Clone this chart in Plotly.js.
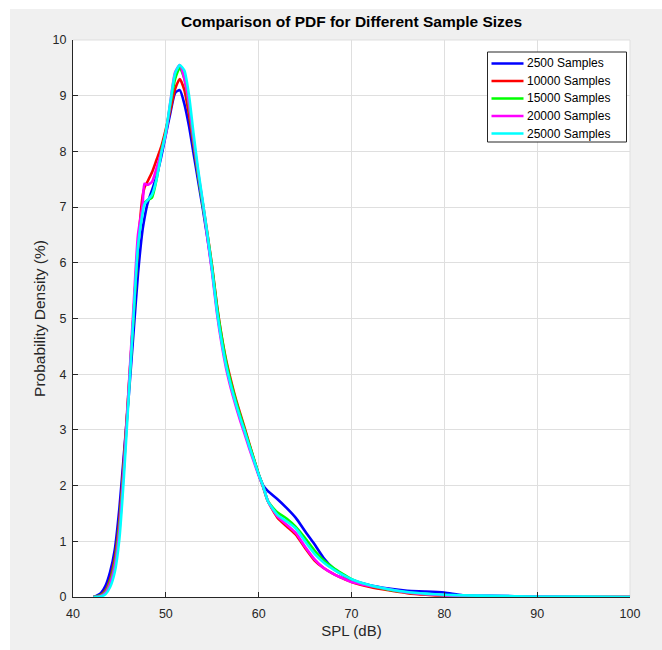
<!DOCTYPE html>
<html>
<head>
<meta charset="utf-8">
<script src="https://cdn.plot.ly/plotly-3.0.1.min.js"></script>
<style>html,body{margin:0;padding:0;background:#fff;}#chart{width:662px;height:650px;}</style>
</head>
<body>
<div id="chart"></div>
<script>
var splX = [42.2, 42.5, 43, 43.5, 44, 44.5, 45, 45.5, 46, 46.5,
  47, 47.5, 47.7, 48, 48.5, 49, 49.5, 50, 50.5, 51,
  51.5, 52, 52.5, 53, 53.5, 54, 54.5, 55, 55.5, 56,
  56.5, 57, 57.5, 58, 58.5, 59, 59.5, 60, 60.5, 61,
  62, 63, 64, 65, 66, 67, 68, 69, 70, 72,
  74, 76, 78, 80, 82, 85, 90, 95, 100];

var pdf2500 = [0, 0.02, 0.07, 0.2, 0.45, 0.85, 1.6, 2.6, 3.6, 4.7,
  5.8, 6.6, 6.8, 7.05, 7.3, 7.55, 7.9, 8.3, 8.7, 9.05,
  9.1, 8.85, 8.45, 7.95, 7.45, 6.95, 6.42, 5.85, 5.18, 4.62,
  4.17, 3.82, 3.5, 3.22, 2.97, 2.7, 2.45, 2.2, 2.0, 1.9,
  1.76, 1.6, 1.42, 1.18, 0.95, 0.7, 0.52, 0.4, 0.31, 0.21,
  0.15, 0.11, 0.1, 0.08, 0.03, 0.02, 0.01, 0, 0];

var pdf10000 = [0, 0.01, 0.04, 0.12, 0.32, 0.7, 1.4, 2.5, 3.75, 5.0,
  6.3, 7.2, 7.35, 7.45, 7.62, 7.85, 8.08, 8.4, 8.75, 9.12,
  9.3, 9.1, 8.65, 8.1, 7.55, 7.05, 6.5, 5.92, 5.25, 4.7,
  4.25, 3.9, 3.58, 3.3, 3.03, 2.75, 2.47, 2.2, 1.97, 1.72,
  1.43, 1.27, 1.12, 0.88, 0.66, 0.52, 0.42, 0.34, 0.27, 0.18,
  0.12, 0.07, 0.04, 0.02, 0.01, 0.01, 0, 0, 0];

var pdf15000 = [0, 0.01, 0.03, 0.1, 0.28, 0.62, 1.3, 2.4, 3.7, 5.0,
  6.3, 6.95, 7.08, 7.12, 7.17, 7.5, 8.0, 8.35, 8.85, 9.3,
  9.5, 9.3, 8.8, 8.15, 7.55, 7.0, 6.48, 5.9, 5.22, 4.68,
  4.22, 3.86, 3.55, 3.27, 3.0, 2.73, 2.47, 2.2, 1.97, 1.72,
  1.52, 1.41, 1.26, 1.06, 0.84, 0.66, 0.53, 0.42, 0.32, 0.2,
  0.13, 0.08, 0.05, 0.03, 0.02, 0.01, 0, 0, 0];

var pdf20000 = [0, 0, 0.02, 0.08, 0.24, 0.55, 1.2, 2.35, 3.75, 5.15,
  6.5, 7.05, 7.42, 7.4, 7.45, 7.7, 7.98, 8.32, 8.9, 9.42,
  9.55, 9.3, 8.85, 8.2, 7.6, 7.05, 6.42, 5.8, 5.1, 4.55,
  4.1, 3.75, 3.45, 3.17, 2.92, 2.66, 2.42, 2.18, 1.97, 1.72,
  1.45, 1.3, 1.15, 0.9, 0.68, 0.52, 0.42, 0.34, 0.27, 0.2,
  0.14, 0.08, 0.05, 0.03, 0.02, 0.01, 0.01, 0, 0];

var pdf25000 = [0, 0, 0.01, 0.05, 0.18, 0.45, 1.05, 2.2, 3.6, 5.0,
  6.3, 6.9, 7.05, 7.12, 7.22, 7.5, 7.95, 8.35, 8.9, 9.4,
  9.55, 9.45, 9.0, 8.3, 7.65, 7.08, 6.48, 5.85, 5.15, 4.6,
  4.15, 3.8, 3.5, 3.22, 2.97, 2.7, 2.45, 2.2, 1.98, 1.72,
  1.48, 1.36, 1.23, 1.0, 0.78, 0.62, 0.5, 0.4, 0.32, 0.21,
  0.14, 0.09, 0.06, 0.04, 0.03, 0.02, 0.01, 0.01, 0];

var seriesNames = ['2500 Samples', '10000 Samples', '15000 Samples', '20000 Samples', '25000 Samples'];
var seriesColors = ['#0000ff', '#ff0000', '#00ff00', '#ff00ff', '#00ffff'];
var seriesData = [pdf2500, pdf10000, pdf15000, pdf20000, pdf25000];

var xTicks = [40, 50, 60, 70, 80, 90, 100];
var yTicks = [0, 1, 2, 3, 4, 5, 6, 7, 8, 9, 10];

var traces = seriesData.map(function (ys, i) {
  return {
    x: splX, y: ys, type: 'scatter', mode: 'lines',
    name: seriesNames[i], showlegend: false,
    line: {color: seriesColors[i], width: 2.6, shape: 'spline', smoothing: 0.6}
  };
});

// plot area in pixels: left 73, right 630, top 40, bottom 597
var PL = 73, PR = 630, PT = 40, PB = 597;
function px(x) { return (x - PL) / (PR - PL); }
function py(y) { return (PB - y) / (PB - PT); }

var fontFam = 'Liberation Sans, Arial, Helvetica, sans-serif';

var shapes = [
  {type: 'rect', xref: 'paper', yref: 'paper', x0: -0.2, x1: 1.2, y0: py(9), y1: 1.2, fillcolor: '#ffffff', line: {width: 0}, layer: 'below'},
  {type: 'rect', xref: 'paper', yref: 'paper', x0: -0.2, x1: px(10), y0: -0.2, y1: 1.2, fillcolor: '#ffffff', line: {width: 0}, layer: 'below'},
  {type: 'line', xref: 'paper', yref: 'paper', x0: 0, x1: 1, y0: 1, y1: 1, line: {color: '#dfdfdf', width: 1}, layer: 'below'},
  {type: 'line', xref: 'paper', yref: 'paper', x0: 1, x1: 1, y0: 0, y1: 1, line: {color: '#dfdfdf', width: 1}, layer: 'below'},
  // legend box
  {type: 'rect', xref: 'paper', yref: 'paper', x0: px(487.5), x1: px(626.5), y0: py(142), y1: py(52), fillcolor: '#ffffff', line: {color: '#262626', width: 1}, layer: 'above'}
];
var annotations = [];
var rowY0 = 63.5, rowStep = 17.5;
seriesNames.forEach(function (nm, i) {
  var ry = rowY0 + i * rowStep;
  shapes.push({type: 'line', xref: 'paper', yref: 'paper', x0: px(491.5), x1: px(523.5), y0: py(ry), y1: py(ry),
    line: {color: seriesColors[i], width: 2.6}, layer: 'above'});
  annotations.push({xref: 'paper', yref: 'paper', x: px(525), y: py(ry), xanchor: 'left', yanchor: 'middle',
    text: nm, showarrow: false, font: {family: fontFam, size: 12, color: '#000'}});
});

var layout = {
  width: 662, height: 650,
  paper_bgcolor: '#f0f0f0',
  plot_bgcolor: '#ffffff',
  margin: {l: 73, r: 32, t: 40, b: 53, pad: 0},
  font: {family: fontFam, size: 12, color: '#262626'},
  title: {text: '<b>Comparison of PDF for Different Sample Sizes</b>', x: 0.5, xref: 'paper', xanchor: 'center', y: 1 - 22/650, yanchor: 'middle', font: {family: fontFam, size: 15.5, color: '#000'}},
  showlegend: false,
  xaxis: {
    range: [40, 100], tickmode: 'array', tickvals: xTicks, ticktext: xTicks.map(String),
    showgrid: true, gridcolor: '#dfdfdf', gridwidth: 1,
    showline: true, linecolor: '#262626', linewidth: 1, mirror: false,
    ticks: 'inside', ticklen: 5, tickcolor: '#262626', ticklabelstandoff: 5,
    zeroline: false, tickfont: {size: 12.5, color: '#262626'},
    title: {text: 'SPL (dB)', font: {size: 15, color: '#262626'}, standoff: 5}
  },
  yaxis: {
    range: [0, 10], tickmode: 'array', tickvals: yTicks, ticktext: yTicks.map(String),
    showgrid: true, gridcolor: '#dfdfdf', gridwidth: 1,
    showline: true, linecolor: '#262626', linewidth: 1, mirror: false,
    ticks: 'inside', ticklen: 5, tickcolor: '#262626', ticklabelstandoff: 3,
    zeroline: false, tickfont: {size: 12.5, color: '#262626'},
    title: {text: 'Probability Density (%)', font: {size: 15.5, color: '#262626'}, standoff: 3}
  },
  shapes: shapes,
  annotations: annotations
};

Plotly.newPlot('chart', traces, layout, {displayModeBar: false, staticPlot: true});
</script>
</body>
</html>
